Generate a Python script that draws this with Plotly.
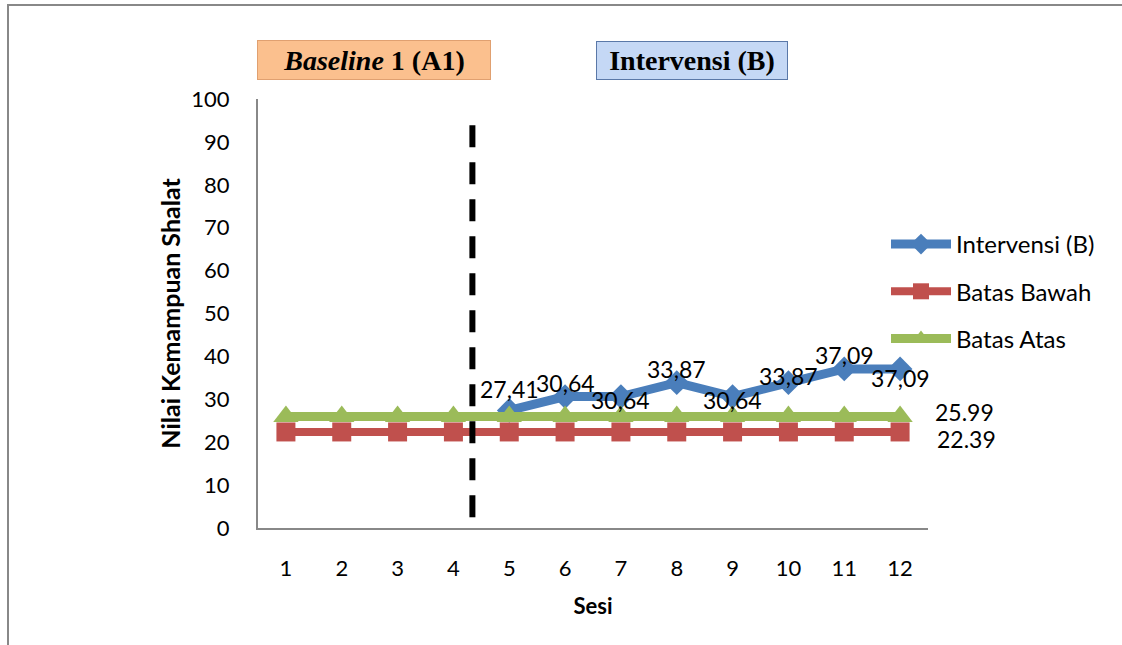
import plotly.graph_objects as go

sessions = list(range(1, 13))
interv_sessions = [5, 6, 7, 8, 9, 10, 11, 12]
interv_values = [27.41, 30.64, 30.64, 33.87, 30.64, 33.87, 37.09, 37.09]
batas_bawah = [22.39] * 12
batas_atas = [25.99] * 12
phase_line_x = 4.34
y_ticks = [0, 10, 20, 30, 40, 50, 60, 70, 80, 90, 100]

BLUE = "#4A7EBB"
RED = "#C0504D"
GREEN = "#9BBB59"
FONT = "Lato"

# vertical offset (px) of each data label relative to its point
label_shift = [21, 14, -3, 14, -3, 7, 14, -9]

fig = go.Figure()
fig.add_trace(go.Scatter(
    x=interv_sessions, y=interv_values, name="Intervensi (B)",
    mode="lines+markers", legendgroup="a",
    line=dict(color=BLUE, width=9),
    marker=dict(symbol="diamond", size=19, color=BLUE),
))
fig.add_trace(go.Scatter(
    x=sessions, y=batas_bawah, name="Batas Bawah",
    mode="lines+markers", legendgroup="b",
    line=dict(color=RED, width=8),
    marker=dict(symbol="square", size=19, color=RED),
))
fig.add_trace(go.Scatter(
    x=sessions, y=batas_atas, name="Batas Atas",
    mode="lines+markers", legendgroup="c",
    line=dict(color=GREEN, width=9),
    marker=dict(symbol="triangle-up", size=22, color=GREEN),
))

W, H = 1122, 645
L, R, T, B = 258, 194, 99, 117
pw, ph = W - L - R, H - T - B

def px(xpix):
    return (xpix - L) / pw

def py(ypix):
    return (H - B - ypix) / ph

shapes = [
    # outer frame
    dict(type="rect", xref="paper", yref="paper",
         x0=px(8), x1=px(1170), y0=py(680), y1=py(5),
         line=dict(color="#888888", width=2), layer="below"),
    # phase-change line
    dict(type="line", xref="x", yref="y", x0=phase_line_x, x1=phase_line_x,
         y0=2.5, y1=94.5, line=dict(color="black", width=6, dash="22px,15px")),
]

annotations = [
    dict(xref="paper", yref="paper", x=px(374), y=py(60), xanchor="center", yanchor="middle",
         text="<b><i>Baseline</i> 1 (A1)</b>",
         showarrow=False, font=dict(family="Liberation Serif", size=28, color="black"),
         bgcolor="#FBC08E", bordercolor="#E0A070", borderwidth=1, borderpad=3,
         width=226, height=32),
    dict(xref="paper", yref="paper", x=px(692), y=py(61), xanchor="center", yanchor="middle",
         text="<b>Intervensi (B)</b>",
         showarrow=False, font=dict(family="Liberation Serif", size=28, color="black"),
         bgcolor="#C5D8F5", bordercolor="#5A78A8", borderwidth=1, borderpad=3,
         width=184, height=31),
    dict(xref="x", yref="y", x=12, y=batas_atas[-1], text=f"{batas_atas[-1]:.2f}",
         showarrow=False, xanchor="left", xshift=33, yshift=5,
         font=dict(family=FONT, size=23, color="black")),
    dict(xref="x", yref="y", x=12, y=batas_bawah[-1], text=f"{batas_bawah[-1]:.2f}",
         showarrow=False, xanchor="left", xshift=35, yshift=-7,
         font=dict(family=FONT, size=23, color="black")),
]
for xs, v, sh in zip(interv_sessions, interv_values, label_shift):
    annotations.append(dict(
        xref="x", yref="y", x=xs, y=v, text=f"{v:.2f}".replace(".", ","),
        showarrow=False, xanchor="center", yanchor="middle", yshift=sh,
        font=dict(family=FONT, size=23, color="black")))

fig.update_layout(
    width=W, height=H,
    margin=dict(l=L, r=R, t=T, b=B),
    paper_bgcolor="white", plot_bgcolor="white",
    font=dict(family=FONT, size=22, color="black"),
    showlegend=True,
    legend=dict(x=px(886), y=py(222), xanchor="left", yanchor="top",
                font=dict(family=FONT, size=24), bgcolor="rgba(0,0,0,0)",
                traceorder="grouped", tracegroupgap=13, itemwidth=60),
    shapes=shapes,
    annotations=annotations,
    xaxis=dict(range=[0.5, 12.5], tickmode="array", tickvals=sessions,
               ticktext=[str(s) for s in sessions], showgrid=False, zeroline=False,
               showline=True, linecolor="#888888", linewidth=2, ticks="",
               ticklabelstandoff=20, tickfont=dict(size=22),
               title=dict(text="<b>Sesi</b>", font=dict(family=FONT, size=22), standoff=18)),
    yaxis=dict(range=[0, 100], tickmode="array", tickvals=y_ticks, showgrid=False,
               zeroline=False, showline=True, linecolor="#888888", linewidth=2, ticks="",
               ticklabelstandoff=22, tickfont=dict(size=22),
               title=dict(text="<b>Nilai Kemampuan Shalat</b>", font=dict(family=FONT, size=25),
                          standoff=4)),
)

fig.write_html("out.html")
